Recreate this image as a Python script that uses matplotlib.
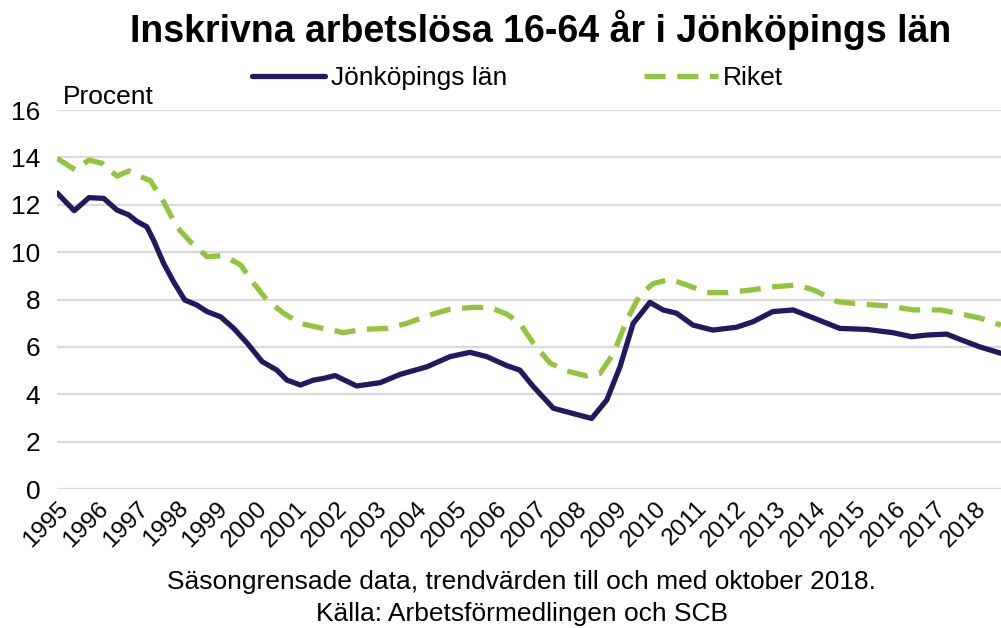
import matplotlib.pyplot as plt

plt.rcParams['font.family'] = ['Liberation Sans', 'DejaVu Sans']

# Values (decimal year, percent)
jkp_year = [1995.0, 1995.43, 1995.8, 1996.17, 1996.5, 1996.8, 1997.0, 1997.25, 1997.42,
            1997.67, 1997.92, 1998.2, 1998.5, 1998.76, 1999.1, 1999.43, 1999.77, 2000.14,
            2000.51, 2000.76, 2001.1, 2001.43, 2001.68, 2001.97, 2002.51, 2003.1, 2003.6,
            2004.27, 2004.85, 2005.35, 2005.77, 2006.27, 2006.6, 2006.94, 2007.44, 2007.86,
            2008.4, 2008.78, 2009.11, 2009.44, 2009.86, 2010.19, 2010.53, 2010.94, 2011.44,
            2012.03, 2012.44, 2012.94, 2013.45, 2013.95, 2014.62, 2015.29, 2015.95, 2016.42,
            2016.8, 2017.3, 2017.63, 2018.13, 2018.66]
jkp_value = [12.5, 11.75, 12.3, 12.27, 11.78, 11.57, 11.3, 11.07, 10.5,
             9.53, 8.75, 7.98, 7.77, 7.49, 7.27, 6.78, 6.15, 5.38,
             5.02, 4.6, 4.39, 4.6, 4.67, 4.79, 4.35, 4.49, 4.84,
             5.16, 5.59, 5.77, 5.59, 5.21, 5.02, 4.32, 3.41, 3.22,
             2.98, 3.76, 5.16, 6.99, 7.88, 7.56, 7.42, 6.92, 6.71,
             6.83, 7.06, 7.49, 7.56, 7.23, 6.78, 6.74, 6.6, 6.43,
             6.5, 6.54, 6.32, 6.0, 5.73]

riket_year = [1995.0, 1995.46, 1995.8, 1996.13, 1996.5, 1996.8, 1997.09, 1997.34, 1997.67,
              1998.0, 1998.34, 1998.76, 1999.18, 1999.6, 1999.93, 2000.26, 2000.68, 2001.1,
              2001.52, 2001.93, 2002.17, 2002.67, 2003.26, 2003.76, 2004.35, 2004.85, 2005.43,
              2005.85, 2006.27, 2006.6, 2006.94, 2007.36, 2007.78, 2008.28, 2008.61, 2008.95,
              2009.28, 2009.61, 2009.95, 2010.37, 2010.79, 2011.29, 2011.79, 2012.38, 2012.96,
              2013.55, 2013.97, 2014.55, 2015.14, 2015.81, 2016.48, 2017.15, 2017.65, 2018.15,
              2018.66]
riket_value = [13.96, 13.47, 13.89, 13.75, 13.21, 13.43, 13.19, 13.02, 12.13,
               11.07, 10.44, 9.81, 9.85, 9.46, 8.68, 7.98, 7.42, 6.99,
               6.83, 6.7, 6.6, 6.74, 6.78, 6.99, 7.35, 7.59, 7.67,
               7.66, 7.39, 6.99, 6.15, 5.31, 4.98, 4.77, 4.88, 5.73,
               7.13, 8.2, 8.68, 8.85, 8.61, 8.29, 8.29, 8.4, 8.54,
               8.61, 8.4, 7.91, 7.81, 7.73, 7.56, 7.56, 7.39, 7.21,
               6.92]

years = list(range(1995, 2019))
yticks = [0, 2, 4, 6, 8, 10, 12, 14, 16]

fig = plt.figure(figsize=(10.01, 6.28), dpi=100)
ax = fig.add_axes([0.057, 0.2213, 0.943, 0.6035])

ax.plot(jkp_year, jkp_value, color='#1f1b5e', lw=3.8, label='Jönköpings län',
        solid_joinstyle='round', solid_capstyle='round')
ax.plot(riket_year, riket_value, color='#94c43d', lw=3.8, label='Riket',
        dashes=(4.0, 2.2))

ax.set_xlim(1995, 2018.66)
ax.set_ylim(0, 16)
ax.set_yticks(yticks)
ax.set_xticks(years)
ax.set_xticklabels([str(y) for y in years], rotation=45, ha='right',
                   va='top', rotation_mode='anchor')
ax.tick_params(axis='y', length=0, labelsize=19, pad=12)
ax.tick_params(axis='x', length=0, labelsize=17.5, pad=6)
ax.grid(axis='y', color='#d9d9d9', lw=1.6)
ax.set_axisbelow(True)
for s in ax.spines.values():
    s.set_visible(False)

fig.text(0.54, 0.952, 'Inskrivna arbetslösa 16-64 år i Jönköpings län',
         ha='center', va='center', fontsize=27, fontweight='bold')
fig.text(0.063, 0.846, 'Procent', ha='left', va='center', fontsize=19)
fig.legend(loc='center', bbox_to_anchor=(0.517, 0.876), ncol=2, frameon=False,
           fontsize=19, handlelength=2.8, columnspacing=5.2, handletextpad=0.2)

fig.text(0.521, 0.073, 'Säsongrensade data, trendvärden till och med oktober 2018.',
         ha='center', va='center', fontsize=19)
fig.text(0.521, 0.022, 'Källa: Arbetsförmedlingen och SCB',
         ha='center', va='center', fontsize=19)

fig.savefig('out.png', dpi=100)
